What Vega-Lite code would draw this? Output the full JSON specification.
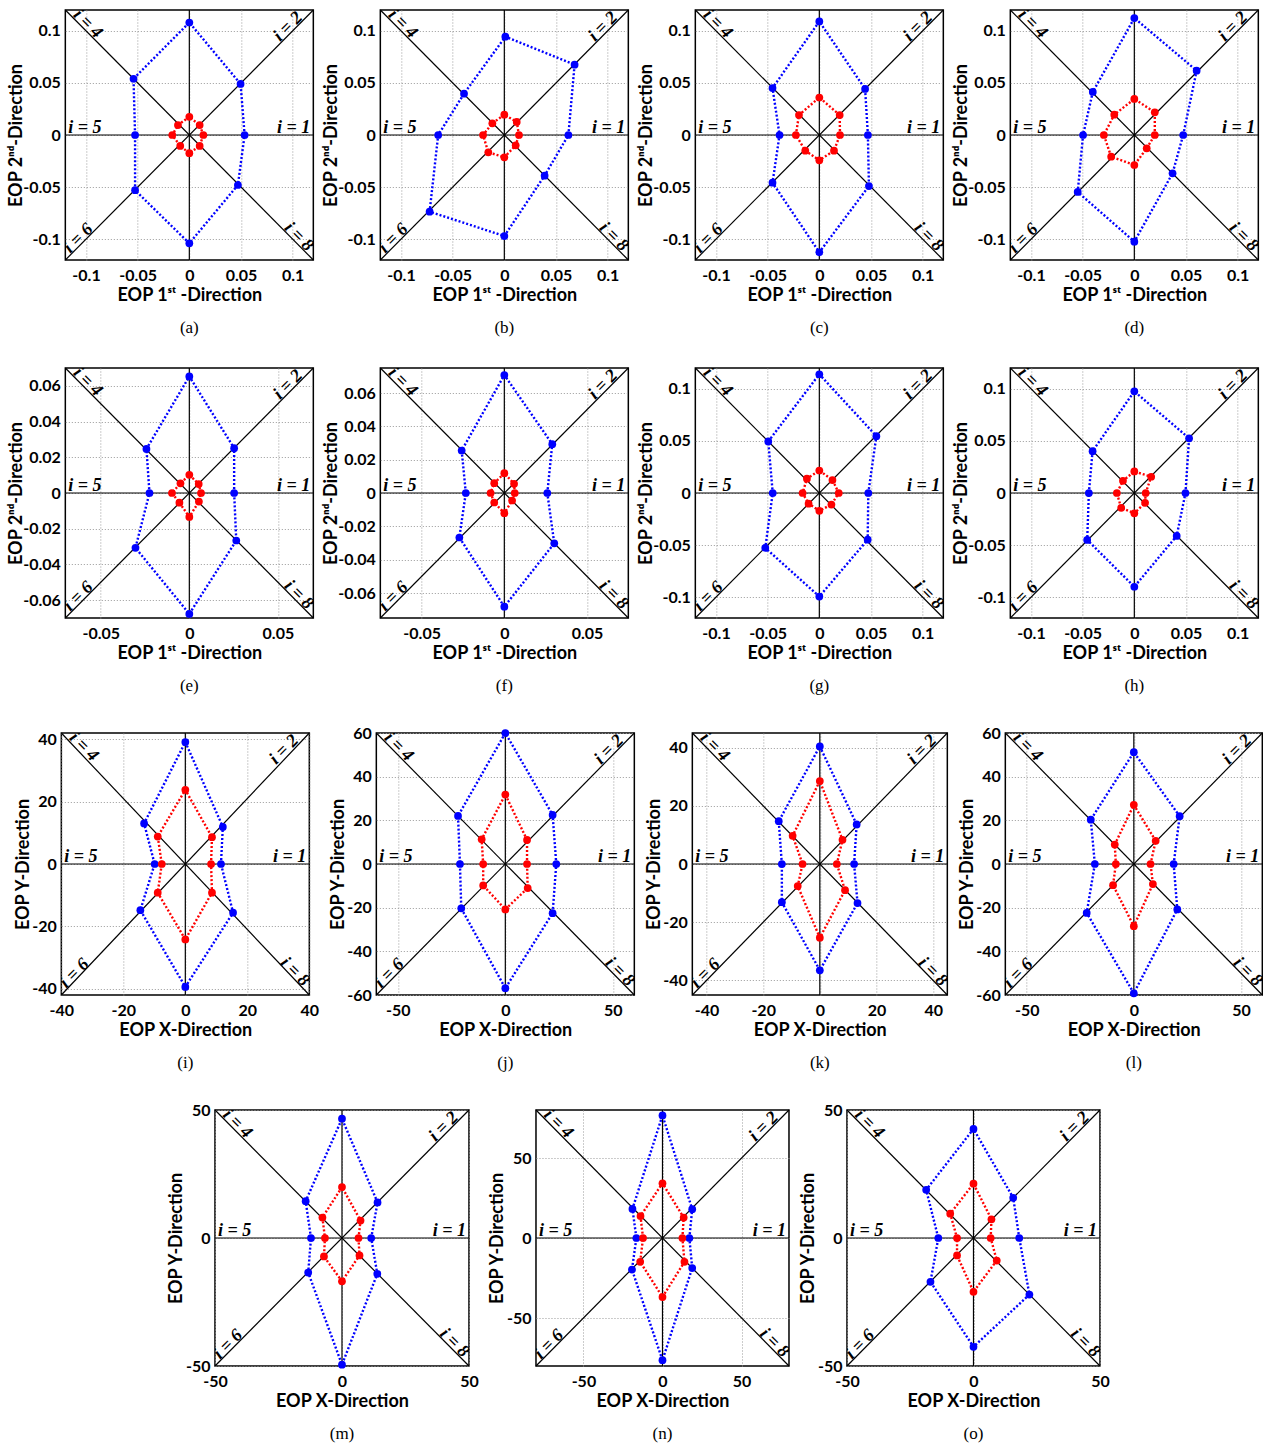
{
"$schema": "https://vega.github.io/schema/vega-lite/v6.json",
"padding": {"left": 6, "top": 8, "right": 0, "bottom": 0},
"config": {
  "view": {"stroke": "#000", "strokeWidth": 1.5},
  "axis": {"domain": false, "ticks": false, "labelFont": "Lato", "labelFontSize": 16, "labelFontWeight": "bold", "labelColor": "#000", "labelPadding": 5, "labelFlush": false, "labelOverlap": false, "titleFont": "Lato", "titleFontSize": 18, "titleFontWeight": "bold", "titleColor": "#000", "titlePadding": 0, "gridColor": "#999999", "gridDash": [1, 2], "gridWidth": 1, "labelExpr": "'' + datum.value"},
  "axisX": {"labelPadding": 7, "titlePadding": 3},
  "title": {"font": "Liberation Serif", "fontSize": 17, "fontWeight": "normal", "color": "#000", "orient": "bottom", "offset": 16},
  "text": {"font": "Liberation Serif", "fontSize": 18, "fontStyle": "italic", "fontWeight": "bold", "fill": "#000", "baseline": "alphabetic"}
},
"datasets": {"d": [
{"p":"a","r":"h","x":-0.12,"y":0,"x2":0.12,"y2":0},{"p":"a","r":"v","x":0,"y":-0.12,"x2":0,"y2":0.12},{"p":"a","r":"d1","x":-0.12,"y":-0.12,"x2":0.12,"y2":0.12},{"p":"a","r":"d2","x":-0.12,"y":0.12,"x2":0.12,"y2":-0.12},
{"p":"b","r":"h","x":-0.12,"y":0,"x2":0.12,"y2":0},{"p":"b","r":"v","x":0,"y":-0.12,"x2":0,"y2":0.12},{"p":"b","r":"d1","x":-0.12,"y":-0.12,"x2":0.12,"y2":0.12},{"p":"b","r":"d2","x":-0.12,"y":0.12,"x2":0.12,"y2":-0.12},
{"p":"c","r":"h","x":-0.12,"y":0,"x2":0.12,"y2":0},{"p":"c","r":"v","x":0,"y":-0.12,"x2":0,"y2":0.12},{"p":"c","r":"d1","x":-0.12,"y":-0.12,"x2":0.12,"y2":0.12},{"p":"c","r":"d2","x":-0.12,"y":0.12,"x2":0.12,"y2":-0.12},
{"p":"d","r":"h","x":-0.12,"y":0,"x2":0.12,"y2":0},{"p":"d","r":"v","x":0,"y":-0.12,"x2":0,"y2":0.12},{"p":"d","r":"d1","x":-0.12,"y":-0.12,"x2":0.12,"y2":0.12},{"p":"d","r":"d2","x":-0.12,"y":0.12,"x2":0.12,"y2":-0.12},
{"p":"e","r":"h","x":-0.07,"y":0,"x2":0.07,"y2":0},{"p":"e","r":"v","x":0,"y":-0.07,"x2":0,"y2":0.07},{"p":"e","r":"d1","x":-0.07,"y":-0.07,"x2":0.07,"y2":0.07},{"p":"e","r":"d2","x":-0.07,"y":0.07,"x2":0.07,"y2":-0.07},
{"p":"f","r":"h","x":-0.075,"y":0,"x2":0.075,"y2":0},{"p":"f","r":"v","x":0,"y":-0.075,"x2":0,"y2":0.075},{"p":"f","r":"d1","x":-0.075,"y":-0.075,"x2":0.075,"y2":0.075},{"p":"f","r":"d2","x":-0.075,"y":0.075,"x2":0.075,"y2":-0.075},
{"p":"g","r":"h","x":-0.12,"y":0,"x2":0.12,"y2":0},{"p":"g","r":"v","x":0,"y":-0.12,"x2":0,"y2":0.12},{"p":"g","r":"d1","x":-0.12,"y":-0.12,"x2":0.12,"y2":0.12},{"p":"g","r":"d2","x":-0.12,"y":0.12,"x2":0.12,"y2":-0.12},
{"p":"h","r":"h","x":-0.12,"y":0,"x2":0.12,"y2":0},{"p":"h","r":"v","x":0,"y":-0.12,"x2":0,"y2":0.12},{"p":"h","r":"d1","x":-0.12,"y":-0.12,"x2":0.12,"y2":0.12},{"p":"h","r":"d2","x":-0.12,"y":0.12,"x2":0.12,"y2":-0.12},
{"p":"i","r":"h","x":-40,"y":0,"x2":40,"y2":0},{"p":"i","r":"v","x":0,"y":-42,"x2":0,"y2":42},{"p":"i","r":"d1","x":-40,"y":-42,"x2":40,"y2":42},{"p":"i","r":"d2","x":-40,"y":42,"x2":40,"y2":-42},
{"p":"j","r":"h","x":-60,"y":0,"x2":60,"y2":0},{"p":"j","r":"v","x":0,"y":-60,"x2":0,"y2":60},{"p":"j","r":"d1","x":-60,"y":-60,"x2":60,"y2":60},{"p":"j","r":"d2","x":-60,"y":60,"x2":60,"y2":-60},
{"p":"k","r":"h","x":-45,"y":0,"x2":45,"y2":0},{"p":"k","r":"v","x":0,"y":-45,"x2":0,"y2":45},{"p":"k","r":"d1","x":-45,"y":-45,"x2":45,"y2":45},{"p":"k","r":"d2","x":-45,"y":45,"x2":45,"y2":-45},
{"p":"l","r":"h","x":-60,"y":0,"x2":60,"y2":0},{"p":"l","r":"v","x":0,"y":-60,"x2":0,"y2":60},{"p":"l","r":"d1","x":-60,"y":-60,"x2":60,"y2":60},{"p":"l","r":"d2","x":-60,"y":60,"x2":60,"y2":-60},
{"p":"m","r":"h","x":-50,"y":0,"x2":50,"y2":0},{"p":"m","r":"v","x":0,"y":-50,"x2":0,"y2":50},{"p":"m","r":"d1","x":-50,"y":-50,"x2":50,"y2":50},{"p":"m","r":"d2","x":-50,"y":50,"x2":50,"y2":-50},
{"p":"n","r":"h","x":-80,"y":0,"x2":80,"y2":0},{"p":"n","r":"v","x":0,"y":-80,"x2":0,"y2":80},{"p":"n","r":"d1","x":-80,"y":-80,"x2":80,"y2":80},{"p":"n","r":"d2","x":-80,"y":80,"x2":80,"y2":-80},
{"p":"o","r":"h","x":-50,"y":0,"x2":50,"y2":0},{"p":"o","r":"v","x":0,"y":-50,"x2":0,"y2":50},{"p":"o","r":"d1","x":-50,"y":-50,"x2":50,"y2":50},{"p":"o","r":"d2","x":-50,"y":50,"x2":50,"y2":-50},

{"p":"a","s":"o","k":1,"x":0.0535,"y":0},{"p":"a","s":"o","k":2,"x":0.0496,"y":0.049},{"p":"a","s":"o","k":3,"x":0,"y":0.108},{"p":"a","s":"o","k":4,"x":-0.054,"y":0.054},{"p":"a","s":"o","k":5,"x":-0.0525,"y":0},{"p":"a","s":"o","k":6,"x":-0.0525,"y":-0.053},{"p":"a","s":"o","k":7,"x":0,"y":-0.104},{"p":"a","s":"o","k":8,"x":0.047,"y":-0.048},
{"p":"a","s":"n","k":1,"x":0.0136,"y":0},{"p":"a","s":"n","k":2,"x":0.010,"y":0.0095},{"p":"a","s":"n","k":3,"x":0,"y":0.0175},{"p":"a","s":"n","k":4,"x":-0.011,"y":0.0095},{"p":"a","s":"n","k":5,"x":-0.0165,"y":0},{"p":"a","s":"n","k":6,"x":-0.0088,"y":-0.0105},{"p":"a","s":"n","k":7,"x":0,"y":-0.0175},{"p":"a","s":"n","k":8,"x":0.010,"y":-0.0105},

{"p":"b","s":"o","k":1,"x":0.062,"y":0},{"p":"b","s":"o","k":2,"x":0.068,"y":0.0675},{"p":"b","s":"o","k":3,"x":0.001,"y":0.0944},{"p":"b","s":"o","k":4,"x":-0.039,"y":0.0397},{"p":"b","s":"o","k":5,"x":-0.064,"y":0},{"p":"b","s":"o","k":6,"x":-0.0723,"y":-0.0736},{"p":"b","s":"o","k":7,"x":0,"y":-0.097},{"p":"b","s":"o","k":8,"x":0.039,"y":-0.039},
{"p":"b","s":"n","k":1,"x":0.0142,"y":0},{"p":"b","s":"n","k":2,"x":0.012,"y":0.0125},{"p":"b","s":"n","k":3,"x":0,"y":0.0195},{"p":"b","s":"n","k":4,"x":-0.0116,"y":0.0112},{"p":"b","s":"n","k":5,"x":-0.0206,"y":0},{"p":"b","s":"n","k":6,"x":-0.0155,"y":-0.0166},{"p":"b","s":"n","k":7,"x":0,"y":-0.0214},{"p":"b","s":"n","k":8,"x":0.011,"y":-0.0099},

{"p":"c","s":"o","k":1,"x":0.047,"y":0},{"p":"c","s":"o","k":2,"x":0.0443,"y":0.0442},{"p":"c","s":"o","k":3,"x":0,"y":0.109},{"p":"c","s":"o","k":4,"x":-0.0453,"y":0.0451},{"p":"c","s":"o","k":5,"x":-0.0385,"y":0},{"p":"c","s":"o","k":6,"x":-0.0453,"y":-0.0458},{"p":"c","s":"o","k":7,"x":0,"y":-0.1126},{"p":"c","s":"o","k":8,"x":0.048,"y":-0.049},
{"p":"c","s":"n","k":1,"x":0.020,"y":0},{"p":"c","s":"n","k":2,"x":0.0197,"y":0.0192},{"p":"c","s":"n","k":3,"x":0,"y":0.036},{"p":"c","s":"n","k":4,"x":-0.0197,"y":0.0192},{"p":"c","s":"n","k":5,"x":-0.0227,"y":0},{"p":"c","s":"n","k":6,"x":-0.0136,"y":-0.015},{"p":"c","s":"n","k":7,"x":0,"y":-0.0243},{"p":"c","s":"n","k":8,"x":0.0142,"y":-0.015},

{"p":"d","s":"o","k":1,"x":0.0473,"y":0},{"p":"d","s":"o","k":2,"x":0.0603,"y":0.0618},{"p":"d","s":"o","k":3,"x":0,"y":0.1123},{"p":"d","s":"o","k":4,"x":-0.0402,"y":0.0413},{"p":"d","s":"o","k":5,"x":-0.0496,"y":0},{"p":"d","s":"o","k":6,"x":-0.0548,"y":-0.0547},{"p":"d","s":"o","k":7,"x":0,"y":-0.1024},{"p":"d","s":"o","k":8,"x":0.037,"y":-0.0368},
{"p":"d","s":"n","k":1,"x":0.0198,"y":0},{"p":"d","s":"n","k":2,"x":0.0198,"y":0.0218},{"p":"d","s":"n","k":3,"x":0,"y":0.0346},{"p":"d","s":"n","k":4,"x":-0.0194,"y":0.0195},{"p":"d","s":"n","k":5,"x":-0.0295,"y":0},{"p":"d","s":"n","k":6,"x":-0.0224,"y":-0.0208},{"p":"d","s":"n","k":7,"x":0,"y":-0.0288},{"p":"d","s":"n","k":8,"x":0.012,"y":-0.0128},

{"p":"e","s":"o","k":1,"x":0.0253,"y":0},{"p":"e","s":"o","k":2,"x":0.0253,"y":0.0251},{"p":"e","s":"o","k":3,"x":0,"y":0.0653},{"p":"e","s":"o","k":4,"x":-0.0242,"y":0.0247},{"p":"e","s":"o","k":5,"x":-0.0225,"y":0},{"p":"e","s":"o","k":6,"x":-0.0304,"y":-0.0307},{"p":"e","s":"o","k":7,"x":0,"y":-0.0677},{"p":"e","s":"o","k":8,"x":0.0265,"y":-0.0266},
{"p":"e","s":"n","k":1,"x":0.0066,"y":0},{"p":"e","s":"n","k":2,"x":0.0053,"y":0.005},{"p":"e","s":"n","k":3,"x":0,"y":0.0102},{"p":"e","s":"n","k":4,"x":-0.005,"y":0.0054},{"p":"e","s":"n","k":5,"x":-0.0098,"y":0},{"p":"e","s":"n","k":6,"x":-0.0056,"y":-0.0054},{"p":"e","s":"n","k":7,"x":0,"y":-0.0134},{"p":"e","s":"n","k":8,"x":0.0054,"y":-0.0048},

{"p":"f","s":"o","k":1,"x":0.026,"y":0},{"p":"f","s":"o","k":2,"x":0.029,"y":0.0293},{"p":"f","s":"o","k":3,"x":0,"y":0.0708},{"p":"f","s":"o","k":4,"x":-0.0258,"y":0.0255},{"p":"f","s":"o","k":5,"x":-0.0233,"y":0},{"p":"f","s":"o","k":6,"x":-0.0272,"y":-0.0267},{"p":"f","s":"o","k":7,"x":0,"y":-0.0682},{"p":"f","s":"o","k":8,"x":0.0302,"y":-0.0302},
{"p":"f","s":"n","k":1,"x":0.0063,"y":0},{"p":"f","s":"n","k":2,"x":0.0059,"y":0.0055},{"p":"f","s":"n","k":3,"x":0,"y":0.0119},{"p":"f","s":"n","k":4,"x":-0.0061,"y":0.0059},{"p":"f","s":"n","k":5,"x":-0.0083,"y":0},{"p":"f","s":"n","k":6,"x":-0.0061,"y":-0.0057},{"p":"f","s":"n","k":7,"x":0,"y":-0.0121},{"p":"f","s":"n","k":8,"x":0.0047,"y":-0.0045},

{"p":"g","s":"o","k":1,"x":0.0474,"y":0},{"p":"g","s":"o","k":2,"x":0.0552,"y":0.0546},{"p":"g","s":"o","k":3,"x":0,"y":0.114},{"p":"g","s":"o","k":4,"x":-0.0494,"y":0.0495},{"p":"g","s":"o","k":5,"x":-0.0451,"y":0},{"p":"g","s":"o","k":6,"x":-0.0523,"y":-0.0527},{"p":"g","s":"o","k":7,"x":0,"y":-0.0994},{"p":"g","s":"o","k":8,"x":0.0468,"y":-0.0448},
{"p":"g","s":"n","k":1,"x":0.0188,"y":0},{"p":"g","s":"n","k":2,"x":0.0127,"y":0.0124},{"p":"g","s":"n","k":3,"x":0,"y":0.0216},{"p":"g","s":"n","k":4,"x":-0.012,"y":0.0137},{"p":"g","s":"n","k":5,"x":-0.0162,"y":0},{"p":"g","s":"n","k":6,"x":-0.0104,"y":-0.0102},{"p":"g","s":"n","k":7,"x":0,"y":-0.0171},{"p":"g","s":"n","k":8,"x":0.0117,"y":-0.0111},

{"p":"h","s":"o","k":1,"x":0.0495,"y":0},{"p":"h","s":"o","k":2,"x":0.053,"y":0.0525},{"p":"h","s":"o","k":3,"x":0,"y":0.0976},{"p":"h","s":"o","k":4,"x":-0.0404,"y":0.0402},{"p":"h","s":"o","k":5,"x":-0.044,"y":0},{"p":"h","s":"o","k":6,"x":-0.0456,"y":-0.045},{"p":"h","s":"o","k":7,"x":0,"y":-0.090},{"p":"h","s":"o","k":8,"x":0.041,"y":-0.0412},
{"p":"h","s":"n","k":1,"x":0.011,"y":0},{"p":"h","s":"n","k":2,"x":0.0163,"y":0.0156},{"p":"h","s":"n","k":3,"x":0,"y":0.0207},{"p":"h","s":"n","k":4,"x":-0.011,"y":0.0117},{"p":"h","s":"n","k":5,"x":-0.0169,"y":0},{"p":"h","s":"n","k":6,"x":-0.0127,"y":-0.0143},{"p":"h","s":"n","k":7,"x":0,"y":-0.0195},{"p":"h","s":"n","k":8,"x":0.0104,"y":-0.0094},

{"p":"i","s":"o","k":1,"x":11.5,"y":0},{"p":"i","s":"o","k":2,"x":12.1,"y":11.9},{"p":"i","s":"o","k":3,"x":0,"y":39.1},{"p":"i","s":"o","k":4,"x":-13.3,"y":13},{"p":"i","s":"o","k":5,"x":-9.9,"y":0},{"p":"i","s":"o","k":6,"x":-14.5,"y":-14.8},{"p":"i","s":"o","k":7,"x":0,"y":-39.4},{"p":"i","s":"o","k":8,"x":15.4,"y":-15.6},
{"p":"i","s":"n","k":1,"x":8.3,"y":0},{"p":"i","s":"n","k":2,"x":8.6,"y":8.6},{"p":"i","s":"n","k":3,"x":0,"y":23.8},{"p":"i","s":"n","k":4,"x":-8.9,"y":8.8},{"p":"i","s":"n","k":5,"x":-7.6,"y":0},{"p":"i","s":"n","k":6,"x":-8.9,"y":-9.2},{"p":"i","s":"n","k":7,"x":0,"y":-24.2},{"p":"i","s":"n","k":8,"x":8.6,"y":-9.2},

{"p":"j","s":"o","k":1,"x":23.7,"y":0},{"p":"j","s":"o","k":2,"x":22,"y":22.5},{"p":"j","s":"o","k":3,"x":0,"y":60},{"p":"j","s":"o","k":4,"x":-22,"y":22},{"p":"j","s":"o","k":5,"x":-21.1,"y":0},{"p":"j","s":"o","k":6,"x":-20.5,"y":-20.3},{"p":"j","s":"o","k":7,"x":0,"y":-56.9},{"p":"j","s":"o","k":8,"x":22,"y":-22.5},
{"p":"j","s":"n","k":1,"x":10.1,"y":0},{"p":"j","s":"n","k":2,"x":10.1,"y":11},{"p":"j","s":"n","k":3,"x":0,"y":31.8},{"p":"j","s":"n","k":4,"x":-11,"y":11.3},{"p":"j","s":"n","k":5,"x":-10.3,"y":0},{"p":"j","s":"n","k":6,"x":-10.3,"y":-9.8},{"p":"j","s":"n","k":7,"x":0,"y":-20.8},{"p":"j","s":"n","k":8,"x":10.4,"y":-11},

{"p":"k","s":"o","k":1,"x":12.1,"y":0},{"p":"k","s":"o","k":2,"x":13,"y":13.6},{"p":"k","s":"o","k":3,"x":0,"y":40.4},{"p":"k","s":"o","k":4,"x":-14.5,"y":14.7},{"p":"k","s":"o","k":5,"x":-13.4,"y":0},{"p":"k","s":"o","k":6,"x":-13.4,"y":-13.1},{"p":"k","s":"o","k":7,"x":0,"y":-36.5},{"p":"k","s":"o","k":8,"x":13.3,"y":-13.4},
{"p":"k","s":"n","k":1,"x":6,"y":0},{"p":"k","s":"n","k":2,"x":8,"y":8.3},{"p":"k","s":"n","k":3,"x":0,"y":28.5},{"p":"k","s":"n","k":4,"x":-9.6,"y":9.7},{"p":"k","s":"n","k":5,"x":-6.1,"y":0},{"p":"k","s":"n","k":6,"x":-7.8,"y":-7.6},{"p":"k","s":"n","k":7,"x":0,"y":-25.3},{"p":"k","s":"n","k":8,"x":8.9,"y":-9},

{"p":"l","s":"o","k":1,"x":18.6,"y":0},{"p":"l","s":"o","k":2,"x":21.4,"y":21.9},{"p":"l","s":"o","k":3,"x":0,"y":51.2},{"p":"l","s":"o","k":4,"x":-20.1,"y":20.3},{"p":"l","s":"o","k":5,"x":-18.2,"y":0},{"p":"l","s":"o","k":6,"x":-22,"y":-22.4},{"p":"l","s":"o","k":7,"x":0,"y":-59.2},{"p":"l","s":"o","k":8,"x":20.3,"y":-20.8},
{"p":"l","s":"n","k":1,"x":7.8,"y":0},{"p":"l","s":"n","k":2,"x":10.2,"y":10.6},{"p":"l","s":"n","k":3,"x":0,"y":27.1},{"p":"l","s":"n","k":4,"x":-8.9,"y":8.9},{"p":"l","s":"n","k":5,"x":-8.4,"y":0},{"p":"l","s":"n","k":6,"x":-9.7,"y":-9.7},{"p":"l","s":"n","k":7,"x":0,"y":-28.5},{"p":"l","s":"n","k":8,"x":8.9,"y":-9.2},

{"p":"m","s":"o","k":1,"x":11.5,"y":0},{"p":"m","s":"o","k":2,"x":14,"y":13.9},{"p":"m","s":"o","k":3,"x":0,"y":46.6},{"p":"m","s":"o","k":4,"x":-14.3,"y":14.4},{"p":"m","s":"o","k":5,"x":-12.2,"y":0},{"p":"m","s":"o","k":6,"x":-13.3,"y":-13.5},{"p":"m","s":"o","k":7,"x":0,"y":-49.5},{"p":"m","s":"o","k":8,"x":13.9,"y":-14},
{"p":"m","s":"n","k":1,"x":6.5,"y":0},{"p":"m","s":"n","k":2,"x":7.3,"y":6.8},{"p":"m","s":"n","k":3,"x":0,"y":19.9},{"p":"m","s":"n","k":4,"x":-7.7,"y":8},{"p":"m","s":"n","k":5,"x":-6.7,"y":0},{"p":"m","s":"n","k":6,"x":-7.1,"y":-7.2},{"p":"m","s":"n","k":7,"x":0,"y":-16.9},{"p":"m","s":"n","k":8,"x":6.9,"y":-6.8},

{"p":"n","s":"o","k":1,"x":17,"y":0},{"p":"n","s":"o","k":2,"x":18.8,"y":18},{"p":"n","s":"o","k":3,"x":0,"y":76.6},{"p":"n","s":"o","k":4,"x":-19,"y":18.2},{"p":"n","s":"o","k":5,"x":-16.5,"y":0},{"p":"n","s":"o","k":6,"x":-19.3,"y":-19.7},{"p":"n","s":"o","k":7,"x":0,"y":-76.4},{"p":"n","s":"o","k":8,"x":18.8,"y":-18.8},
{"p":"n","s":"n","k":1,"x":12.6,"y":0},{"p":"n","s":"n","k":2,"x":13.4,"y":12.8},{"p":"n","s":"n","k":3,"x":0,"y":34.2},{"p":"n","s":"n","k":4,"x":-13.9,"y":13.7},{"p":"n","s":"n","k":5,"x":-12.3,"y":0},{"p":"n","s":"n","k":6,"x":-14.1,"y":-14.9},{"p":"n","s":"n","k":7,"x":0,"y":-36.9},{"p":"n","s":"n","k":8,"x":13.9,"y":-14.9},

{"p":"o","s":"o","k":1,"x":18.1,"y":0},{"p":"o","s":"o","k":2,"x":15.7,"y":15.7},{"p":"o","s":"o","k":3,"x":0,"y":42.6},{"p":"o","s":"o","k":4,"x":-18.7,"y":18.8},{"p":"o","s":"o","k":5,"x":-13.9,"y":0},{"p":"o","s":"o","k":6,"x":-17,"y":-17.1},{"p":"o","s":"o","k":7,"x":0,"y":-42.5},{"p":"o","s":"o","k":8,"x":22.1,"y":-22.1},
{"p":"o","s":"n","k":1,"x":6.8,"y":0},{"p":"o","s":"n","k":2,"x":7.1,"y":7.3},{"p":"o","s":"n","k":3,"x":0,"y":21.2},{"p":"o","s":"n","k":4,"x":-9.2,"y":9.5},{"p":"o","s":"n","k":5,"x":-6.5,"y":0},{"p":"o","s":"n","k":6,"x":-6.5,"y":-6.8},{"p":"o","s":"n","k":7,"x":0,"y":-21},{"p":"o","s":"n","k":8,"x":9.2,"y":-8.8}
]},
"vconcat": [
{"hconcat": [
{"title":"(a)","width":248,"height":250,"data":{"name":"d"},"transform":[{"filter":"datum.p==='a'"}],"layer":[
{"transform":[{"filter":"isValid(datum.r)"}],"mark":{"type":"rule","color":"#000","strokeWidth":1.2},"encoding":{"x":{"field":"x","type":"quantitative","scale":{"nice":false,"zero":false},"axis":{"values":[-0.1,-0.05,0,0.05,0.1],"title":"EOP 1ˢᵗ -Direction"}},"y":{"field":"y","type":"quantitative","scale":{"nice":false,"zero":false},"axis":{"values":[-0.1,-0.05,0,0.05,0.1],"title":"EOP 2ⁿᵈ-Direction","minExtent":40,"maxExtent":40}},"x2":{"field":"x2"},"y2":{"field":"y2"}}},
{"transform":[{"filter":"isValid(datum.s)"}],"mark":{"type":"line","interpolate":"linear-closed","strokeDash":[2,2],"strokeWidth":2.4},"encoding":{"x":{"field":"x","type":"quantitative"},"y":{"field":"y","type":"quantitative"},"color":{"field":"s","type":"nominal","scale":{"domain":["o","n"],"range":["#0000ff","#ff0000"]},"legend":null},"order":{"field":"k","type":"quantitative"}}},
{"transform":[{"filter":"isValid(datum.s)"}],"mark":{"type":"circle","size":60,"opacity":1},"encoding":{"x":{"field":"x","type":"quantitative"},"y":{"field":"y","type":"quantitative"},"color":{"field":"s","type":"nominal","legend":null}}},
{"transform":[{"filter":"datum.r==='h'"}],"mark":{"type":"text","text":"i = 1","align":"right","dx":-3,"dy":-2,"clip":true},"encoding":{"x":{"field":"x2","type":"quantitative"},"y":{"field":"y2","type":"quantitative"}}},
{"transform":[{"filter":"datum.r==='h'"}],"mark":{"type":"text","text":"i = 5","align":"left","dx":3,"dy":-2,"clip":true},"encoding":{"x":{"field":"x","type":"quantitative"},"y":{"field":"y","type":"quantitative"}}},
{"transform":[{"filter":"datum.r==='d1'"}],"mark":{"type":"text","text":"i = 2","angle":315,"align":"right","dx":-13,"dy":-1,"clip":true},"encoding":{"x":{"field":"x2","type":"quantitative"},"y":{"field":"y2","type":"quantitative"}}},
{"transform":[{"filter":"datum.r==='d1'"}],"mark":{"type":"text","text":"i = 6","angle":315,"align":"left","dx":8,"dy":-1,"clip":true},"encoding":{"x":{"field":"x","type":"quantitative"},"y":{"field":"y","type":"quantitative"}}},
{"transform":[{"filter":"datum.r==='d2'"}],"mark":{"type":"text","text":"i = 4","angle":45,"align":"left","dx":9,"dy":-1,"clip":true},"encoding":{"x":{"field":"x","type":"quantitative"},"y":{"field":"y","type":"quantitative"}}},
{"transform":[{"filter":"datum.r==='d2'"}],"mark":{"type":"text","text":"i = 8","angle":45,"align":"right","dx":-10,"dy":-1,"clip":true},"encoding":{"x":{"field":"x2","type":"quantitative"},"y":{"field":"y2","type":"quantitative"}}}
]},
{"title":"(b)","width":248,"height":250,"data":{"name":"d"},"transform":[{"filter":"datum.p==='b'"}],"layer":[
{"transform":[{"filter":"isValid(datum.r)"}],"mark":{"type":"rule","color":"#000","strokeWidth":1.2},"encoding":{"x":{"field":"x","type":"quantitative","scale":{"nice":false,"zero":false},"axis":{"values":[-0.1,-0.05,0,0.05,0.1],"title":"EOP 1ˢᵗ -Direction"}},"y":{"field":"y","type":"quantitative","scale":{"nice":false,"zero":false},"axis":{"values":[-0.1,-0.05,0,0.05,0.1],"title":"EOP 2ⁿᵈ-Direction","minExtent":40,"maxExtent":40}},"x2":{"field":"x2"},"y2":{"field":"y2"}}},
{"transform":[{"filter":"isValid(datum.s)"}],"mark":{"type":"line","interpolate":"linear-closed","strokeDash":[2,2],"strokeWidth":2.4},"encoding":{"x":{"field":"x","type":"quantitative"},"y":{"field":"y","type":"quantitative"},"color":{"field":"s","type":"nominal","scale":{"domain":["o","n"],"range":["#0000ff","#ff0000"]},"legend":null},"order":{"field":"k","type":"quantitative"}}},
{"transform":[{"filter":"isValid(datum.s)"}],"mark":{"type":"circle","size":60,"opacity":1},"encoding":{"x":{"field":"x","type":"quantitative"},"y":{"field":"y","type":"quantitative"},"color":{"field":"s","type":"nominal","legend":null}}},
{"transform":[{"filter":"datum.r==='h'"}],"mark":{"type":"text","text":"i = 1","align":"right","dx":-3,"dy":-2,"clip":true},"encoding":{"x":{"field":"x2","type":"quantitative"},"y":{"field":"y2","type":"quantitative"}}},
{"transform":[{"filter":"datum.r==='h'"}],"mark":{"type":"text","text":"i = 5","align":"left","dx":3,"dy":-2,"clip":true},"encoding":{"x":{"field":"x","type":"quantitative"},"y":{"field":"y","type":"quantitative"}}},
{"transform":[{"filter":"datum.r==='d1'"}],"mark":{"type":"text","text":"i = 2","angle":315,"align":"right","dx":-13,"dy":-1,"clip":true},"encoding":{"x":{"field":"x2","type":"quantitative"},"y":{"field":"y2","type":"quantitative"}}},
{"transform":[{"filter":"datum.r==='d1'"}],"mark":{"type":"text","text":"i = 6","angle":315,"align":"left","dx":8,"dy":-1,"clip":true},"encoding":{"x":{"field":"x","type":"quantitative"},"y":{"field":"y","type":"quantitative"}}},
{"transform":[{"filter":"datum.r==='d2'"}],"mark":{"type":"text","text":"i = 4","angle":45,"align":"left","dx":9,"dy":-1,"clip":true},"encoding":{"x":{"field":"x","type":"quantitative"},"y":{"field":"y","type":"quantitative"}}},
{"transform":[{"filter":"datum.r==='d2'"}],"mark":{"type":"text","text":"i = 8","angle":45,"align":"right","dx":-10,"dy":-1,"clip":true},"encoding":{"x":{"field":"x2","type":"quantitative"},"y":{"field":"y2","type":"quantitative"}}}
]},
{"title":"(c)","width":248,"height":250,"data":{"name":"d"},"transform":[{"filter":"datum.p==='c'"}],"layer":[
{"transform":[{"filter":"isValid(datum.r)"}],"mark":{"type":"rule","color":"#000","strokeWidth":1.2},"encoding":{"x":{"field":"x","type":"quantitative","scale":{"nice":false,"zero":false},"axis":{"values":[-0.1,-0.05,0,0.05,0.1],"title":"EOP 1ˢᵗ -Direction"}},"y":{"field":"y","type":"quantitative","scale":{"nice":false,"zero":false},"axis":{"values":[-0.1,-0.05,0,0.05,0.1],"title":"EOP 2ⁿᵈ-Direction","minExtent":40,"maxExtent":40}},"x2":{"field":"x2"},"y2":{"field":"y2"}}},
{"transform":[{"filter":"isValid(datum.s)"}],"mark":{"type":"line","interpolate":"linear-closed","strokeDash":[2,2],"strokeWidth":2.4},"encoding":{"x":{"field":"x","type":"quantitative"},"y":{"field":"y","type":"quantitative"},"color":{"field":"s","type":"nominal","scale":{"domain":["o","n"],"range":["#0000ff","#ff0000"]},"legend":null},"order":{"field":"k","type":"quantitative"}}},
{"transform":[{"filter":"isValid(datum.s)"}],"mark":{"type":"circle","size":60,"opacity":1},"encoding":{"x":{"field":"x","type":"quantitative"},"y":{"field":"y","type":"quantitative"},"color":{"field":"s","type":"nominal","legend":null}}},
{"transform":[{"filter":"datum.r==='h'"}],"mark":{"type":"text","text":"i = 1","align":"right","dx":-3,"dy":-2,"clip":true},"encoding":{"x":{"field":"x2","type":"quantitative"},"y":{"field":"y2","type":"quantitative"}}},
{"transform":[{"filter":"datum.r==='h'"}],"mark":{"type":"text","text":"i = 5","align":"left","dx":3,"dy":-2,"clip":true},"encoding":{"x":{"field":"x","type":"quantitative"},"y":{"field":"y","type":"quantitative"}}},
{"transform":[{"filter":"datum.r==='d1'"}],"mark":{"type":"text","text":"i = 2","angle":315,"align":"right","dx":-13,"dy":-1,"clip":true},"encoding":{"x":{"field":"x2","type":"quantitative"},"y":{"field":"y2","type":"quantitative"}}},
{"transform":[{"filter":"datum.r==='d1'"}],"mark":{"type":"text","text":"i = 6","angle":315,"align":"left","dx":8,"dy":-1,"clip":true},"encoding":{"x":{"field":"x","type":"quantitative"},"y":{"field":"y","type":"quantitative"}}},
{"transform":[{"filter":"datum.r==='d2'"}],"mark":{"type":"text","text":"i = 4","angle":45,"align":"left","dx":9,"dy":-1,"clip":true},"encoding":{"x":{"field":"x","type":"quantitative"},"y":{"field":"y","type":"quantitative"}}},
{"transform":[{"filter":"datum.r==='d2'"}],"mark":{"type":"text","text":"i = 8","angle":45,"align":"right","dx":-10,"dy":-1,"clip":true},"encoding":{"x":{"field":"x2","type":"quantitative"},"y":{"field":"y2","type":"quantitative"}}}
]},
{"title":"(d)","width":248,"height":250,"data":{"name":"d"},"transform":[{"filter":"datum.p==='d'"}],"layer":[
{"transform":[{"filter":"isValid(datum.r)"}],"mark":{"type":"rule","color":"#000","strokeWidth":1.2},"encoding":{"x":{"field":"x","type":"quantitative","scale":{"nice":false,"zero":false},"axis":{"values":[-0.1,-0.05,0,0.05,0.1],"title":"EOP 1ˢᵗ -Direction"}},"y":{"field":"y","type":"quantitative","scale":{"nice":false,"zero":false},"axis":{"values":[-0.1,-0.05,0,0.05,0.1],"title":"EOP 2ⁿᵈ-Direction","minExtent":40,"maxExtent":40}},"x2":{"field":"x2"},"y2":{"field":"y2"}}},
{"transform":[{"filter":"isValid(datum.s)"}],"mark":{"type":"line","interpolate":"linear-closed","strokeDash":[2,2],"strokeWidth":2.4},"encoding":{"x":{"field":"x","type":"quantitative"},"y":{"field":"y","type":"quantitative"},"color":{"field":"s","type":"nominal","scale":{"domain":["o","n"],"range":["#0000ff","#ff0000"]},"legend":null},"order":{"field":"k","type":"quantitative"}}},
{"transform":[{"filter":"isValid(datum.s)"}],"mark":{"type":"circle","size":60,"opacity":1},"encoding":{"x":{"field":"x","type":"quantitative"},"y":{"field":"y","type":"quantitative"},"color":{"field":"s","type":"nominal","legend":null}}},
{"transform":[{"filter":"datum.r==='h'"}],"mark":{"type":"text","text":"i = 1","align":"right","dx":-3,"dy":-2,"clip":true},"encoding":{"x":{"field":"x2","type":"quantitative"},"y":{"field":"y2","type":"quantitative"}}},
{"transform":[{"filter":"datum.r==='h'"}],"mark":{"type":"text","text":"i = 5","align":"left","dx":3,"dy":-2,"clip":true},"encoding":{"x":{"field":"x","type":"quantitative"},"y":{"field":"y","type":"quantitative"}}},
{"transform":[{"filter":"datum.r==='d1'"}],"mark":{"type":"text","text":"i = 2","angle":315,"align":"right","dx":-13,"dy":-1,"clip":true},"encoding":{"x":{"field":"x2","type":"quantitative"},"y":{"field":"y2","type":"quantitative"}}},
{"transform":[{"filter":"datum.r==='d1'"}],"mark":{"type":"text","text":"i = 6","angle":315,"align":"left","dx":8,"dy":-1,"clip":true},"encoding":{"x":{"field":"x","type":"quantitative"},"y":{"field":"y","type":"quantitative"}}},
{"transform":[{"filter":"datum.r==='d2'"}],"mark":{"type":"text","text":"i = 4","angle":45,"align":"left","dx":9,"dy":-1,"clip":true},"encoding":{"x":{"field":"x","type":"quantitative"},"y":{"field":"y","type":"quantitative"}}},
{"transform":[{"filter":"datum.r==='d2'"}],"mark":{"type":"text","text":"i = 8","angle":45,"align":"right","dx":-10,"dy":-1,"clip":true},"encoding":{"x":{"field":"x2","type":"quantitative"},"y":{"field":"y2","type":"quantitative"}}}
]}
], "spacing": 6},
{"hconcat": [
{"title":"(e)","width":248,"height":250,"data":{"name":"d"},"transform":[{"filter":"datum.p==='e'"}],"layer":[
{"transform":[{"filter":"isValid(datum.r)"}],"mark":{"type":"rule","color":"#000","strokeWidth":1.2},"encoding":{"x":{"field":"x","type":"quantitative","scale":{"nice":false,"zero":false},"axis":{"values":[-0.05,0,0.05],"title":"EOP 1ˢᵗ -Direction"}},"y":{"field":"y","type":"quantitative","scale":{"nice":false,"zero":false},"axis":{"values":[-0.06,-0.04,-0.02,0,0.02,0.04,0.06],"title":"EOP 2ⁿᵈ-Direction","minExtent":40,"maxExtent":40}},"x2":{"field":"x2"},"y2":{"field":"y2"}}},
{"transform":[{"filter":"isValid(datum.s)"}],"mark":{"type":"line","interpolate":"linear-closed","strokeDash":[2,2],"strokeWidth":2.4},"encoding":{"x":{"field":"x","type":"quantitative"},"y":{"field":"y","type":"quantitative"},"color":{"field":"s","type":"nominal","scale":{"domain":["o","n"],"range":["#0000ff","#ff0000"]},"legend":null},"order":{"field":"k","type":"quantitative"}}},
{"transform":[{"filter":"isValid(datum.s)"}],"mark":{"type":"circle","size":60,"opacity":1},"encoding":{"x":{"field":"x","type":"quantitative"},"y":{"field":"y","type":"quantitative"},"color":{"field":"s","type":"nominal","legend":null}}},
{"transform":[{"filter":"datum.r==='h'"}],"mark":{"type":"text","text":"i = 1","align":"right","dx":-3,"dy":-2,"clip":true},"encoding":{"x":{"field":"x2","type":"quantitative"},"y":{"field":"y2","type":"quantitative"}}},
{"transform":[{"filter":"datum.r==='h'"}],"mark":{"type":"text","text":"i = 5","align":"left","dx":3,"dy":-2,"clip":true},"encoding":{"x":{"field":"x","type":"quantitative"},"y":{"field":"y","type":"quantitative"}}},
{"transform":[{"filter":"datum.r==='d1'"}],"mark":{"type":"text","text":"i = 2","angle":315,"align":"right","dx":-13,"dy":-1,"clip":true},"encoding":{"x":{"field":"x2","type":"quantitative"},"y":{"field":"y2","type":"quantitative"}}},
{"transform":[{"filter":"datum.r==='d1'"}],"mark":{"type":"text","text":"i = 6","angle":315,"align":"left","dx":8,"dy":-1,"clip":true},"encoding":{"x":{"field":"x","type":"quantitative"},"y":{"field":"y","type":"quantitative"}}},
{"transform":[{"filter":"datum.r==='d2'"}],"mark":{"type":"text","text":"i = 4","angle":45,"align":"left","dx":9,"dy":-1,"clip":true},"encoding":{"x":{"field":"x","type":"quantitative"},"y":{"field":"y","type":"quantitative"}}},
{"transform":[{"filter":"datum.r==='d2'"}],"mark":{"type":"text","text":"i = 8","angle":45,"align":"right","dx":-10,"dy":-1,"clip":true},"encoding":{"x":{"field":"x2","type":"quantitative"},"y":{"field":"y2","type":"quantitative"}}}
]},
{"title":"(f)","width":248,"height":250,"data":{"name":"d"},"transform":[{"filter":"datum.p==='f'"}],"layer":[
{"transform":[{"filter":"isValid(datum.r)"}],"mark":{"type":"rule","color":"#000","strokeWidth":1.2},"encoding":{"x":{"field":"x","type":"quantitative","scale":{"nice":false,"zero":false},"axis":{"values":[-0.05,0,0.05],"title":"EOP 1ˢᵗ -Direction"}},"y":{"field":"y","type":"quantitative","scale":{"nice":false,"zero":false},"axis":{"values":[-0.06,-0.04,-0.02,0,0.02,0.04,0.06],"title":"EOP 2ⁿᵈ-Direction","minExtent":40,"maxExtent":40}},"x2":{"field":"x2"},"y2":{"field":"y2"}}},
{"transform":[{"filter":"isValid(datum.s)"}],"mark":{"type":"line","interpolate":"linear-closed","strokeDash":[2,2],"strokeWidth":2.4},"encoding":{"x":{"field":"x","type":"quantitative"},"y":{"field":"y","type":"quantitative"},"color":{"field":"s","type":"nominal","scale":{"domain":["o","n"],"range":["#0000ff","#ff0000"]},"legend":null},"order":{"field":"k","type":"quantitative"}}},
{"transform":[{"filter":"isValid(datum.s)"}],"mark":{"type":"circle","size":60,"opacity":1},"encoding":{"x":{"field":"x","type":"quantitative"},"y":{"field":"y","type":"quantitative"},"color":{"field":"s","type":"nominal","legend":null}}},
{"transform":[{"filter":"datum.r==='h'"}],"mark":{"type":"text","text":"i = 1","align":"right","dx":-3,"dy":-2,"clip":true},"encoding":{"x":{"field":"x2","type":"quantitative"},"y":{"field":"y2","type":"quantitative"}}},
{"transform":[{"filter":"datum.r==='h'"}],"mark":{"type":"text","text":"i = 5","align":"left","dx":3,"dy":-2,"clip":true},"encoding":{"x":{"field":"x","type":"quantitative"},"y":{"field":"y","type":"quantitative"}}},
{"transform":[{"filter":"datum.r==='d1'"}],"mark":{"type":"text","text":"i = 2","angle":315,"align":"right","dx":-13,"dy":-1,"clip":true},"encoding":{"x":{"field":"x2","type":"quantitative"},"y":{"field":"y2","type":"quantitative"}}},
{"transform":[{"filter":"datum.r==='d1'"}],"mark":{"type":"text","text":"i = 6","angle":315,"align":"left","dx":8,"dy":-1,"clip":true},"encoding":{"x":{"field":"x","type":"quantitative"},"y":{"field":"y","type":"quantitative"}}},
{"transform":[{"filter":"datum.r==='d2'"}],"mark":{"type":"text","text":"i = 4","angle":45,"align":"left","dx":9,"dy":-1,"clip":true},"encoding":{"x":{"field":"x","type":"quantitative"},"y":{"field":"y","type":"quantitative"}}},
{"transform":[{"filter":"datum.r==='d2'"}],"mark":{"type":"text","text":"i = 8","angle":45,"align":"right","dx":-10,"dy":-1,"clip":true},"encoding":{"x":{"field":"x2","type":"quantitative"},"y":{"field":"y2","type":"quantitative"}}}
]},
{"title":"(g)","width":248,"height":250,"data":{"name":"d"},"transform":[{"filter":"datum.p==='g'"}],"layer":[
{"transform":[{"filter":"isValid(datum.r)"}],"mark":{"type":"rule","color":"#000","strokeWidth":1.2},"encoding":{"x":{"field":"x","type":"quantitative","scale":{"nice":false,"zero":false},"axis":{"values":[-0.1,-0.05,0,0.05,0.1],"title":"EOP 1ˢᵗ -Direction"}},"y":{"field":"y","type":"quantitative","scale":{"nice":false,"zero":false},"axis":{"values":[-0.1,-0.05,0,0.05,0.1],"title":"EOP 2ⁿᵈ-Direction","minExtent":40,"maxExtent":40}},"x2":{"field":"x2"},"y2":{"field":"y2"}}},
{"transform":[{"filter":"isValid(datum.s)"}],"mark":{"type":"line","interpolate":"linear-closed","strokeDash":[2,2],"strokeWidth":2.4},"encoding":{"x":{"field":"x","type":"quantitative"},"y":{"field":"y","type":"quantitative"},"color":{"field":"s","type":"nominal","scale":{"domain":["o","n"],"range":["#0000ff","#ff0000"]},"legend":null},"order":{"field":"k","type":"quantitative"}}},
{"transform":[{"filter":"isValid(datum.s)"}],"mark":{"type":"circle","size":60,"opacity":1},"encoding":{"x":{"field":"x","type":"quantitative"},"y":{"field":"y","type":"quantitative"},"color":{"field":"s","type":"nominal","legend":null}}},
{"transform":[{"filter":"datum.r==='h'"}],"mark":{"type":"text","text":"i = 1","align":"right","dx":-3,"dy":-2,"clip":true},"encoding":{"x":{"field":"x2","type":"quantitative"},"y":{"field":"y2","type":"quantitative"}}},
{"transform":[{"filter":"datum.r==='h'"}],"mark":{"type":"text","text":"i = 5","align":"left","dx":3,"dy":-2,"clip":true},"encoding":{"x":{"field":"x","type":"quantitative"},"y":{"field":"y","type":"quantitative"}}},
{"transform":[{"filter":"datum.r==='d1'"}],"mark":{"type":"text","text":"i = 2","angle":315,"align":"right","dx":-13,"dy":-1,"clip":true},"encoding":{"x":{"field":"x2","type":"quantitative"},"y":{"field":"y2","type":"quantitative"}}},
{"transform":[{"filter":"datum.r==='d1'"}],"mark":{"type":"text","text":"i = 6","angle":315,"align":"left","dx":8,"dy":-1,"clip":true},"encoding":{"x":{"field":"x","type":"quantitative"},"y":{"field":"y","type":"quantitative"}}},
{"transform":[{"filter":"datum.r==='d2'"}],"mark":{"type":"text","text":"i = 4","angle":45,"align":"left","dx":9,"dy":-1,"clip":true},"encoding":{"x":{"field":"x","type":"quantitative"},"y":{"field":"y","type":"quantitative"}}},
{"transform":[{"filter":"datum.r==='d2'"}],"mark":{"type":"text","text":"i = 8","angle":45,"align":"right","dx":-10,"dy":-1,"clip":true},"encoding":{"x":{"field":"x2","type":"quantitative"},"y":{"field":"y2","type":"quantitative"}}}
]},
{"title":"(h)","width":248,"height":250,"data":{"name":"d"},"transform":[{"filter":"datum.p==='h'"}],"layer":[
{"transform":[{"filter":"isValid(datum.r)"}],"mark":{"type":"rule","color":"#000","strokeWidth":1.2},"encoding":{"x":{"field":"x","type":"quantitative","scale":{"nice":false,"zero":false},"axis":{"values":[-0.1,-0.05,0,0.05,0.1],"title":"EOP 1ˢᵗ -Direction"}},"y":{"field":"y","type":"quantitative","scale":{"nice":false,"zero":false},"axis":{"values":[-0.1,-0.05,0,0.05,0.1],"title":"EOP 2ⁿᵈ-Direction","minExtent":40,"maxExtent":40}},"x2":{"field":"x2"},"y2":{"field":"y2"}}},
{"transform":[{"filter":"isValid(datum.s)"}],"mark":{"type":"line","interpolate":"linear-closed","strokeDash":[2,2],"strokeWidth":2.4},"encoding":{"x":{"field":"x","type":"quantitative"},"y":{"field":"y","type":"quantitative"},"color":{"field":"s","type":"nominal","scale":{"domain":["o","n"],"range":["#0000ff","#ff0000"]},"legend":null},"order":{"field":"k","type":"quantitative"}}},
{"transform":[{"filter":"isValid(datum.s)"}],"mark":{"type":"circle","size":60,"opacity":1},"encoding":{"x":{"field":"x","type":"quantitative"},"y":{"field":"y","type":"quantitative"},"color":{"field":"s","type":"nominal","legend":null}}},
{"transform":[{"filter":"datum.r==='h'"}],"mark":{"type":"text","text":"i = 1","align":"right","dx":-3,"dy":-2,"clip":true},"encoding":{"x":{"field":"x2","type":"quantitative"},"y":{"field":"y2","type":"quantitative"}}},
{"transform":[{"filter":"datum.r==='h'"}],"mark":{"type":"text","text":"i = 5","align":"left","dx":3,"dy":-2,"clip":true},"encoding":{"x":{"field":"x","type":"quantitative"},"y":{"field":"y","type":"quantitative"}}},
{"transform":[{"filter":"datum.r==='d1'"}],"mark":{"type":"text","text":"i = 2","angle":315,"align":"right","dx":-13,"dy":-1,"clip":true},"encoding":{"x":{"field":"x2","type":"quantitative"},"y":{"field":"y2","type":"quantitative"}}},
{"transform":[{"filter":"datum.r==='d1'"}],"mark":{"type":"text","text":"i = 6","angle":315,"align":"left","dx":8,"dy":-1,"clip":true},"encoding":{"x":{"field":"x","type":"quantitative"},"y":{"field":"y","type":"quantitative"}}},
{"transform":[{"filter":"datum.r==='d2'"}],"mark":{"type":"text","text":"i = 4","angle":45,"align":"left","dx":9,"dy":-1,"clip":true},"encoding":{"x":{"field":"x","type":"quantitative"},"y":{"field":"y","type":"quantitative"}}},
{"transform":[{"filter":"datum.r==='d2'"}],"mark":{"type":"text","text":"i = 8","angle":45,"align":"right","dx":-10,"dy":-1,"clip":true},"encoding":{"x":{"field":"x2","type":"quantitative"},"y":{"field":"y2","type":"quantitative"}}}
]}
], "spacing": 6},
{"hconcat": [
{"title":"(i)","width":248,"height":262,"data":{"name":"d"},"transform":[{"filter":"datum.p==='i'"}],"layer":[
{"transform":[{"filter":"isValid(datum.r)"}],"mark":{"type":"rule","color":"#000","strokeWidth":1.2},"encoding":{"x":{"field":"x","type":"quantitative","scale":{"nice":false,"zero":false},"axis":{"values":[-40,-20,0,20,40],"title":"EOP X-Direction"}},"y":{"field":"y","type":"quantitative","scale":{"nice":false,"zero":false},"axis":{"values":[-40,-20,0,20,40],"title":"EOP Y-Direction","minExtent":29,"maxExtent":29}},"x2":{"field":"x2"},"y2":{"field":"y2"}}},
{"transform":[{"filter":"isValid(datum.s)"}],"mark":{"type":"line","interpolate":"linear-closed","strokeDash":[2,2],"strokeWidth":2.4},"encoding":{"x":{"field":"x","type":"quantitative"},"y":{"field":"y","type":"quantitative"},"color":{"field":"s","type":"nominal","scale":{"domain":["o","n"],"range":["#0000ff","#ff0000"]},"legend":null},"order":{"field":"k","type":"quantitative"}}},
{"transform":[{"filter":"isValid(datum.s)"}],"mark":{"type":"circle","size":60,"opacity":1},"encoding":{"x":{"field":"x","type":"quantitative"},"y":{"field":"y","type":"quantitative"},"color":{"field":"s","type":"nominal","legend":null}}},
{"transform":[{"filter":"datum.r==='h'"}],"mark":{"type":"text","text":"i = 1","align":"right","dx":-3,"dy":-2,"clip":true},"encoding":{"x":{"field":"x2","type":"quantitative"},"y":{"field":"y2","type":"quantitative"}}},
{"transform":[{"filter":"datum.r==='h'"}],"mark":{"type":"text","text":"i = 5","align":"left","dx":3,"dy":-2,"clip":true},"encoding":{"x":{"field":"x","type":"quantitative"},"y":{"field":"y","type":"quantitative"}}},
{"transform":[{"filter":"datum.r==='d1'"}],"mark":{"type":"text","text":"i = 2","angle":315,"align":"right","dx":-13,"dy":-1,"clip":true},"encoding":{"x":{"field":"x2","type":"quantitative"},"y":{"field":"y2","type":"quantitative"}}},
{"transform":[{"filter":"datum.r==='d1'"}],"mark":{"type":"text","text":"i = 6","angle":315,"align":"left","dx":8,"dy":-1,"clip":true},"encoding":{"x":{"field":"x","type":"quantitative"},"y":{"field":"y","type":"quantitative"}}},
{"transform":[{"filter":"datum.r==='d2'"}],"mark":{"type":"text","text":"i = 4","angle":45,"align":"left","dx":9,"dy":-1,"clip":true},"encoding":{"x":{"field":"x","type":"quantitative"},"y":{"field":"y","type":"quantitative"}}},
{"transform":[{"filter":"datum.r==='d2'"}],"mark":{"type":"text","text":"i = 8","angle":45,"align":"right","dx":-10,"dy":-1,"clip":true},"encoding":{"x":{"field":"x2","type":"quantitative"},"y":{"field":"y2","type":"quantitative"}}}
]},
{"title":"(j)","width":258,"height":262,"data":{"name":"d"},"transform":[{"filter":"datum.p==='j'"}],"layer":[
{"transform":[{"filter":"isValid(datum.r)"}],"mark":{"type":"rule","color":"#000","strokeWidth":1.2},"encoding":{"x":{"field":"x","type":"quantitative","scale":{"nice":false,"zero":false},"axis":{"values":[-50,0,50],"title":"EOP X-Direction"}},"y":{"field":"y","type":"quantitative","scale":{"nice":false,"zero":false},"axis":{"values":[-60,-40,-20,0,20,40,60],"title":"EOP Y-Direction","minExtent":29,"maxExtent":29}},"x2":{"field":"x2"},"y2":{"field":"y2"}}},
{"transform":[{"filter":"isValid(datum.s)"}],"mark":{"type":"line","interpolate":"linear-closed","strokeDash":[2,2],"strokeWidth":2.4},"encoding":{"x":{"field":"x","type":"quantitative"},"y":{"field":"y","type":"quantitative"},"color":{"field":"s","type":"nominal","scale":{"domain":["o","n"],"range":["#0000ff","#ff0000"]},"legend":null},"order":{"field":"k","type":"quantitative"}}},
{"transform":[{"filter":"isValid(datum.s)"}],"mark":{"type":"circle","size":60,"opacity":1},"encoding":{"x":{"field":"x","type":"quantitative"},"y":{"field":"y","type":"quantitative"},"color":{"field":"s","type":"nominal","legend":null}}},
{"transform":[{"filter":"datum.r==='h'"}],"mark":{"type":"text","text":"i = 1","align":"right","dx":-3,"dy":-2,"clip":true},"encoding":{"x":{"field":"x2","type":"quantitative"},"y":{"field":"y2","type":"quantitative"}}},
{"transform":[{"filter":"datum.r==='h'"}],"mark":{"type":"text","text":"i = 5","align":"left","dx":3,"dy":-2,"clip":true},"encoding":{"x":{"field":"x","type":"quantitative"},"y":{"field":"y","type":"quantitative"}}},
{"transform":[{"filter":"datum.r==='d1'"}],"mark":{"type":"text","text":"i = 2","angle":315,"align":"right","dx":-13,"dy":-1,"clip":true},"encoding":{"x":{"field":"x2","type":"quantitative"},"y":{"field":"y2","type":"quantitative"}}},
{"transform":[{"filter":"datum.r==='d1'"}],"mark":{"type":"text","text":"i = 6","angle":315,"align":"left","dx":8,"dy":-1,"clip":true},"encoding":{"x":{"field":"x","type":"quantitative"},"y":{"field":"y","type":"quantitative"}}},
{"transform":[{"filter":"datum.r==='d2'"}],"mark":{"type":"text","text":"i = 4","angle":45,"align":"left","dx":9,"dy":-1,"clip":true},"encoding":{"x":{"field":"x","type":"quantitative"},"y":{"field":"y","type":"quantitative"}}},
{"transform":[{"filter":"datum.r==='d2'"}],"mark":{"type":"text","text":"i = 8","angle":45,"align":"right","dx":-10,"dy":-1,"clip":true},"encoding":{"x":{"field":"x2","type":"quantitative"},"y":{"field":"y2","type":"quantitative"}}}
]},
{"title":"(k)","width":255,"height":262,"data":{"name":"d"},"transform":[{"filter":"datum.p==='k'"}],"layer":[
{"transform":[{"filter":"isValid(datum.r)"}],"mark":{"type":"rule","color":"#000","strokeWidth":1.2},"encoding":{"x":{"field":"x","type":"quantitative","scale":{"nice":false,"zero":false},"axis":{"values":[-40,-20,0,20,40],"title":"EOP X-Direction"}},"y":{"field":"y","type":"quantitative","scale":{"nice":false,"zero":false},"axis":{"values":[-40,-20,0,20,40],"title":"EOP Y-Direction","minExtent":29,"maxExtent":29}},"x2":{"field":"x2"},"y2":{"field":"y2"}}},
{"transform":[{"filter":"isValid(datum.s)"}],"mark":{"type":"line","interpolate":"linear-closed","strokeDash":[2,2],"strokeWidth":2.4},"encoding":{"x":{"field":"x","type":"quantitative"},"y":{"field":"y","type":"quantitative"},"color":{"field":"s","type":"nominal","scale":{"domain":["o","n"],"range":["#0000ff","#ff0000"]},"legend":null},"order":{"field":"k","type":"quantitative"}}},
{"transform":[{"filter":"isValid(datum.s)"}],"mark":{"type":"circle","size":60,"opacity":1},"encoding":{"x":{"field":"x","type":"quantitative"},"y":{"field":"y","type":"quantitative"},"color":{"field":"s","type":"nominal","legend":null}}},
{"transform":[{"filter":"datum.r==='h'"}],"mark":{"type":"text","text":"i = 1","align":"right","dx":-3,"dy":-2,"clip":true},"encoding":{"x":{"field":"x2","type":"quantitative"},"y":{"field":"y2","type":"quantitative"}}},
{"transform":[{"filter":"datum.r==='h'"}],"mark":{"type":"text","text":"i = 5","align":"left","dx":3,"dy":-2,"clip":true},"encoding":{"x":{"field":"x","type":"quantitative"},"y":{"field":"y","type":"quantitative"}}},
{"transform":[{"filter":"datum.r==='d1'"}],"mark":{"type":"text","text":"i = 2","angle":315,"align":"right","dx":-13,"dy":-1,"clip":true},"encoding":{"x":{"field":"x2","type":"quantitative"},"y":{"field":"y2","type":"quantitative"}}},
{"transform":[{"filter":"datum.r==='d1'"}],"mark":{"type":"text","text":"i = 6","angle":315,"align":"left","dx":8,"dy":-1,"clip":true},"encoding":{"x":{"field":"x","type":"quantitative"},"y":{"field":"y","type":"quantitative"}}},
{"transform":[{"filter":"datum.r==='d2'"}],"mark":{"type":"text","text":"i = 4","angle":45,"align":"left","dx":9,"dy":-1,"clip":true},"encoding":{"x":{"field":"x","type":"quantitative"},"y":{"field":"y","type":"quantitative"}}},
{"transform":[{"filter":"datum.r==='d2'"}],"mark":{"type":"text","text":"i = 8","angle":45,"align":"right","dx":-10,"dy":-1,"clip":true},"encoding":{"x":{"field":"x2","type":"quantitative"},"y":{"field":"y2","type":"quantitative"}}}
]},
{"title":"(l)","width":257,"height":262,"data":{"name":"d"},"transform":[{"filter":"datum.p==='l'"}],"layer":[
{"transform":[{"filter":"isValid(datum.r)"}],"mark":{"type":"rule","color":"#000","strokeWidth":1.2},"encoding":{"x":{"field":"x","type":"quantitative","scale":{"nice":false,"zero":false},"axis":{"values":[-50,0,50],"title":"EOP X-Direction"}},"y":{"field":"y","type":"quantitative","scale":{"nice":false,"zero":false},"axis":{"values":[-60,-40,-20,0,20,40,60],"title":"EOP Y-Direction","minExtent":29,"maxExtent":29}},"x2":{"field":"x2"},"y2":{"field":"y2"}}},
{"transform":[{"filter":"isValid(datum.s)"}],"mark":{"type":"line","interpolate":"linear-closed","strokeDash":[2,2],"strokeWidth":2.4},"encoding":{"x":{"field":"x","type":"quantitative"},"y":{"field":"y","type":"quantitative"},"color":{"field":"s","type":"nominal","scale":{"domain":["o","n"],"range":["#0000ff","#ff0000"]},"legend":null},"order":{"field":"k","type":"quantitative"}}},
{"transform":[{"filter":"isValid(datum.s)"}],"mark":{"type":"circle","size":60,"opacity":1},"encoding":{"x":{"field":"x","type":"quantitative"},"y":{"field":"y","type":"quantitative"},"color":{"field":"s","type":"nominal","legend":null}}},
{"transform":[{"filter":"datum.r==='h'"}],"mark":{"type":"text","text":"i = 1","align":"right","dx":-3,"dy":-2,"clip":true},"encoding":{"x":{"field":"x2","type":"quantitative"},"y":{"field":"y2","type":"quantitative"}}},
{"transform":[{"filter":"datum.r==='h'"}],"mark":{"type":"text","text":"i = 5","align":"left","dx":3,"dy":-2,"clip":true},"encoding":{"x":{"field":"x","type":"quantitative"},"y":{"field":"y","type":"quantitative"}}},
{"transform":[{"filter":"datum.r==='d1'"}],"mark":{"type":"text","text":"i = 2","angle":315,"align":"right","dx":-13,"dy":-1,"clip":true},"encoding":{"x":{"field":"x2","type":"quantitative"},"y":{"field":"y2","type":"quantitative"}}},
{"transform":[{"filter":"datum.r==='d1'"}],"mark":{"type":"text","text":"i = 6","angle":315,"align":"left","dx":8,"dy":-1,"clip":true},"encoding":{"x":{"field":"x","type":"quantitative"},"y":{"field":"y","type":"quantitative"}}},
{"transform":[{"filter":"datum.r==='d2'"}],"mark":{"type":"text","text":"i = 4","angle":45,"align":"left","dx":9,"dy":-1,"clip":true},"encoding":{"x":{"field":"x","type":"quantitative"},"y":{"field":"y","type":"quantitative"}}},
{"transform":[{"filter":"datum.r==='d2'"}],"mark":{"type":"text","text":"i = 8","angle":45,"align":"right","dx":-10,"dy":-1,"clip":true},"encoding":{"x":{"field":"x2","type":"quantitative"},"y":{"field":"y2","type":"quantitative"}}}
]}
], "spacing": 8},
{"hconcat": [
{"title":"(m)","width":254,"height":256,"data":{"name":"d"},"transform":[{"filter":"datum.p==='m'"}],"layer":[
{"transform":[{"filter":"isValid(datum.r)"}],"mark":{"type":"rule","color":"#000","strokeWidth":1.2},"encoding":{"x":{"field":"x","type":"quantitative","scale":{"nice":false,"zero":false},"axis":{"values":[-50,0,50],"title":"EOP X-Direction"}},"y":{"field":"y","type":"quantitative","scale":{"nice":false,"zero":false},"axis":{"values":[-50,0,50],"title":"EOP Y-Direction","minExtent":29,"maxExtent":29}},"x2":{"field":"x2"},"y2":{"field":"y2"}}},
{"transform":[{"filter":"isValid(datum.s)"}],"mark":{"type":"line","interpolate":"linear-closed","strokeDash":[2,2],"strokeWidth":2.4},"encoding":{"x":{"field":"x","type":"quantitative"},"y":{"field":"y","type":"quantitative"},"color":{"field":"s","type":"nominal","scale":{"domain":["o","n"],"range":["#0000ff","#ff0000"]},"legend":null},"order":{"field":"k","type":"quantitative"}}},
{"transform":[{"filter":"isValid(datum.s)"}],"mark":{"type":"circle","size":60,"opacity":1},"encoding":{"x":{"field":"x","type":"quantitative"},"y":{"field":"y","type":"quantitative"},"color":{"field":"s","type":"nominal","legend":null}}},
{"transform":[{"filter":"datum.r==='h'"}],"mark":{"type":"text","text":"i = 1","align":"right","dx":-3,"dy":-2,"clip":true},"encoding":{"x":{"field":"x2","type":"quantitative"},"y":{"field":"y2","type":"quantitative"}}},
{"transform":[{"filter":"datum.r==='h'"}],"mark":{"type":"text","text":"i = 5","align":"left","dx":3,"dy":-2,"clip":true},"encoding":{"x":{"field":"x","type":"quantitative"},"y":{"field":"y","type":"quantitative"}}},
{"transform":[{"filter":"datum.r==='d1'"}],"mark":{"type":"text","text":"i = 2","angle":315,"align":"right","dx":-13,"dy":-1,"clip":true},"encoding":{"x":{"field":"x2","type":"quantitative"},"y":{"field":"y2","type":"quantitative"}}},
{"transform":[{"filter":"datum.r==='d1'"}],"mark":{"type":"text","text":"i = 6","angle":315,"align":"left","dx":8,"dy":-1,"clip":true},"encoding":{"x":{"field":"x","type":"quantitative"},"y":{"field":"y","type":"quantitative"}}},
{"transform":[{"filter":"datum.r==='d2'"}],"mark":{"type":"text","text":"i = 4","angle":45,"align":"left","dx":9,"dy":-1,"clip":true},"encoding":{"x":{"field":"x","type":"quantitative"},"y":{"field":"y","type":"quantitative"}}},
{"transform":[{"filter":"datum.r==='d2'"}],"mark":{"type":"text","text":"i = 8","angle":45,"align":"right","dx":-10,"dy":-1,"clip":true},"encoding":{"x":{"field":"x2","type":"quantitative"},"y":{"field":"y2","type":"quantitative"}}}
]},
{"title":"(n)","width":253,"height":256,"data":{"name":"d"},"transform":[{"filter":"datum.p==='n'"}],"layer":[
{"transform":[{"filter":"isValid(datum.r)"}],"mark":{"type":"rule","color":"#000","strokeWidth":1.2},"encoding":{"x":{"field":"x","type":"quantitative","scale":{"nice":false,"zero":false},"axis":{"values":[-50,0,50],"title":"EOP X-Direction"}},"y":{"field":"y","type":"quantitative","scale":{"nice":false,"zero":false},"axis":{"values":[-50,0,50],"title":"EOP Y-Direction","minExtent":29,"maxExtent":29}},"x2":{"field":"x2"},"y2":{"field":"y2"}}},
{"transform":[{"filter":"isValid(datum.s)"}],"mark":{"type":"line","interpolate":"linear-closed","strokeDash":[2,2],"strokeWidth":2.4},"encoding":{"x":{"field":"x","type":"quantitative"},"y":{"field":"y","type":"quantitative"},"color":{"field":"s","type":"nominal","scale":{"domain":["o","n"],"range":["#0000ff","#ff0000"]},"legend":null},"order":{"field":"k","type":"quantitative"}}},
{"transform":[{"filter":"isValid(datum.s)"}],"mark":{"type":"circle","size":60,"opacity":1},"encoding":{"x":{"field":"x","type":"quantitative"},"y":{"field":"y","type":"quantitative"},"color":{"field":"s","type":"nominal","legend":null}}},
{"transform":[{"filter":"datum.r==='h'"}],"mark":{"type":"text","text":"i = 1","align":"right","dx":-3,"dy":-2,"clip":true},"encoding":{"x":{"field":"x2","type":"quantitative"},"y":{"field":"y2","type":"quantitative"}}},
{"transform":[{"filter":"datum.r==='h'"}],"mark":{"type":"text","text":"i = 5","align":"left","dx":3,"dy":-2,"clip":true},"encoding":{"x":{"field":"x","type":"quantitative"},"y":{"field":"y","type":"quantitative"}}},
{"transform":[{"filter":"datum.r==='d1'"}],"mark":{"type":"text","text":"i = 2","angle":315,"align":"right","dx":-13,"dy":-1,"clip":true},"encoding":{"x":{"field":"x2","type":"quantitative"},"y":{"field":"y2","type":"quantitative"}}},
{"transform":[{"filter":"datum.r==='d1'"}],"mark":{"type":"text","text":"i = 6","angle":315,"align":"left","dx":8,"dy":-1,"clip":true},"encoding":{"x":{"field":"x","type":"quantitative"},"y":{"field":"y","type":"quantitative"}}},
{"transform":[{"filter":"datum.r==='d2'"}],"mark":{"type":"text","text":"i = 4","angle":45,"align":"left","dx":9,"dy":-1,"clip":true},"encoding":{"x":{"field":"x","type":"quantitative"},"y":{"field":"y","type":"quantitative"}}},
{"transform":[{"filter":"datum.r==='d2'"}],"mark":{"type":"text","text":"i = 8","angle":45,"align":"right","dx":-10,"dy":-1,"clip":true},"encoding":{"x":{"field":"x2","type":"quantitative"},"y":{"field":"y2","type":"quantitative"}}}
]},
{"title":"(o)","width":253,"height":256,"data":{"name":"d"},"transform":[{"filter":"datum.p==='o'"}],"layer":[
{"transform":[{"filter":"isValid(datum.r)"}],"mark":{"type":"rule","color":"#000","strokeWidth":1.2},"encoding":{"x":{"field":"x","type":"quantitative","scale":{"nice":false,"zero":false},"axis":{"values":[-50,0,50],"title":"EOP X-Direction"}},"y":{"field":"y","type":"quantitative","scale":{"nice":false,"zero":false},"axis":{"values":[-50,0,50],"title":"EOP Y-Direction","minExtent":29,"maxExtent":29}},"x2":{"field":"x2"},"y2":{"field":"y2"}}},
{"transform":[{"filter":"isValid(datum.s)"}],"mark":{"type":"line","interpolate":"linear-closed","strokeDash":[2,2],"strokeWidth":2.4},"encoding":{"x":{"field":"x","type":"quantitative"},"y":{"field":"y","type":"quantitative"},"color":{"field":"s","type":"nominal","scale":{"domain":["o","n"],"range":["#0000ff","#ff0000"]},"legend":null},"order":{"field":"k","type":"quantitative"}}},
{"transform":[{"filter":"isValid(datum.s)"}],"mark":{"type":"circle","size":60,"opacity":1},"encoding":{"x":{"field":"x","type":"quantitative"},"y":{"field":"y","type":"quantitative"},"color":{"field":"s","type":"nominal","legend":null}}},
{"transform":[{"filter":"datum.r==='h'"}],"mark":{"type":"text","text":"i = 1","align":"right","dx":-3,"dy":-2,"clip":true},"encoding":{"x":{"field":"x2","type":"quantitative"},"y":{"field":"y2","type":"quantitative"}}},
{"transform":[{"filter":"datum.r==='h'"}],"mark":{"type":"text","text":"i = 5","align":"left","dx":3,"dy":-2,"clip":true},"encoding":{"x":{"field":"x","type":"quantitative"},"y":{"field":"y","type":"quantitative"}}},
{"transform":[{"filter":"datum.r==='d1'"}],"mark":{"type":"text","text":"i = 2","angle":315,"align":"right","dx":-13,"dy":-1,"clip":true},"encoding":{"x":{"field":"x2","type":"quantitative"},"y":{"field":"y2","type":"quantitative"}}},
{"transform":[{"filter":"datum.r==='d1'"}],"mark":{"type":"text","text":"i = 6","angle":315,"align":"left","dx":8,"dy":-1,"clip":true},"encoding":{"x":{"field":"x","type":"quantitative"},"y":{"field":"y","type":"quantitative"}}},
{"transform":[{"filter":"datum.r==='d2'"}],"mark":{"type":"text","text":"i = 4","angle":45,"align":"left","dx":9,"dy":-1,"clip":true},"encoding":{"x":{"field":"x","type":"quantitative"},"y":{"field":"y","type":"quantitative"}}},
{"transform":[{"filter":"datum.r==='d2'"}],"mark":{"type":"text","text":"i = 8","angle":45,"align":"right","dx":-10,"dy":-1,"clip":true},"encoding":{"x":{"field":"x2","type":"quantitative"},"y":{"field":"y2","type":"quantitative"}}}
]}
], "spacing": 8}
], "spacing": 29, "center": true
}
